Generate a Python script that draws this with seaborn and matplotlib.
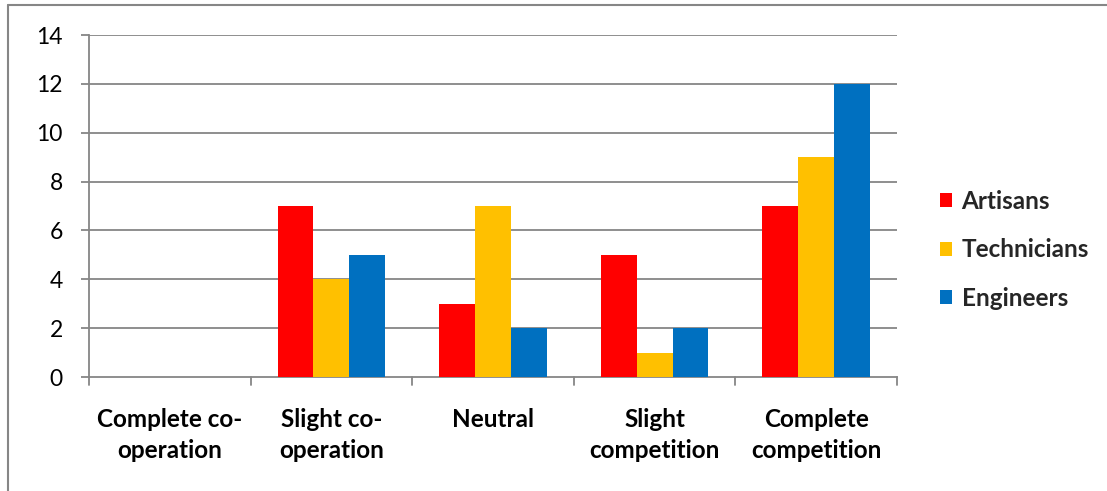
import matplotlib
matplotlib.use("Agg")
import matplotlib.pyplot as plt
from matplotlib.lines import Line2D
from matplotlib.patches import Patch
import seaborn as sns
import pandas as pd

categories = ["Complete co-\noperation", "Slight co-\noperation", "Neutral",
              "Slight\ncompetition", "Complete\ncompetition"]
groups = ["Artisans", "Technicians", "Engineers"]
artisans = [0, 7, 3, 5, 7]
technicians = [0, 4, 7, 1, 9]
engineers = [0, 5, 2, 2, 12]
y_ticks = [0, 2, 4, 6, 8, 10, 12, 14]

colors = ["#FF0000", "#FFC000", "#0070C0"]
grid_col = "#868686"

df = pd.DataFrame({
    "category": categories * 3,
    "group": [g for g in groups for _ in categories],
    "value": artisans + technicians + engineers,
})

sns.set_theme(style="white")
plt.rcParams["font.family"] = ["Lato", "DejaVu Sans"]

fig = plt.figure(figsize=(11.07, 4.91), dpi=100)
ax = fig.add_axes([89 / 1107, 1 - 377 / 491, (897 - 89) / 1107, (377 - 35) / 491])

sns.barplot(data=df, x="category", y="value", hue="group", order=categories,
            hue_order=groups, palette=colors, width=0.667, gap=0,
            saturation=1, linewidth=0, legend=False, ax=ax, zorder=3)

ax.set_xlim(-0.5, len(categories) - 0.5)
ax.set_ylim(0, 14)
ax.set_yticks(y_ticks)
ax.set_yticklabels([str(v) for v in y_ticks], fontsize=16.5, color="black")
ax.set_xlabel("")
ax.set_ylabel("")

# horizontal gridlines
for v in y_ticks[1:]:
    ax.axhline(v, color=grid_col, linewidth=1.3, zorder=1)

for side in ["top", "right"]:
    ax.spines[side].set_visible(False)
for side in ["left", "bottom"]:
    ax.spines[side].set_color(grid_col)
    ax.spines[side].set_linewidth(1.3)

ax.tick_params(axis="y", length=5.8, width=1.3, color=grid_col, direction="out",
               pad=13, left=True)

# category labels centred under each group; tick marks at group boundaries
ax.set_xticks(range(len(categories)))
ax.set_xticklabels(categories, fontsize=17.5, fontweight="bold", color="black",
                   linespacing=1.45)
ax.tick_params(axis="x", length=0, pad=22)
for b in [i - 0.5 for i in range(len(categories) + 1)]:
    ax.plot([b, b], [0, -0.33], color=grid_col, linewidth=1.3,
            clip_on=False, zorder=2)

handles = [Patch(facecolor=c, edgecolor="none") for c in colors]
fig.legend(handles, groups, loc="center left", bbox_to_anchor=(930 / 1107, 1 - 250 / 491),
           frameon=False, prop={"family": ["Lato", "DejaVu Sans"], "weight": "bold", "size": 17.5},
           handlelength=0.5, handleheight=0.5, handletextpad=0.4, labelspacing=1.05,
           borderaxespad=0)

# outer chart-area frame (top and left edges)
fig.add_artist(Line2D([8 / 1107, 1], [1 - 5 / 491, 1 - 5 / 491], transform=fig.transFigure,
                      color=grid_col, linewidth=1.5))
fig.add_artist(Line2D([8 / 1107, 8 / 1107], [0, 1 - 5 / 491], transform=fig.transFigure,
                      color=grid_col, linewidth=1.5))

fig.savefig("out.png", dpi=100, facecolor="white")
